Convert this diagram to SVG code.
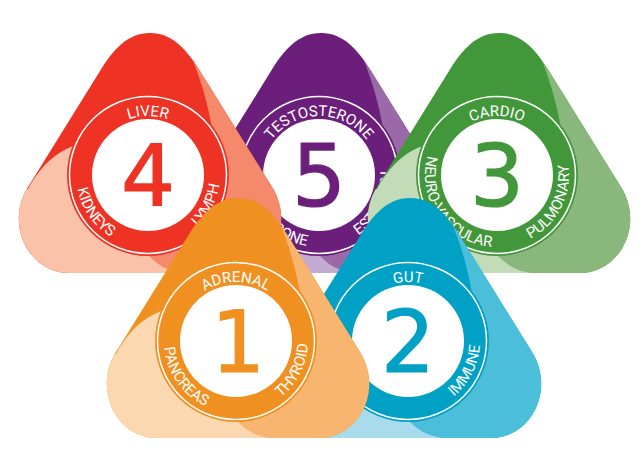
<svg xmlns="http://www.w3.org/2000/svg" width="644" height="470" viewBox="0 0 644 470">
<style>
.num{font-family:"DejaVu Sans",sans-serif;font-size:85px;text-anchor:middle;stroke-width:1.2}
.lbl{font-family:Roboto,"Liberation Sans",sans-serif;font-size:15px;fill:#fff;text-anchor:middle}
.ring{fill:none;stroke:#fff;stroke-width:1.5}
.disc{fill:#fff}
.red-d{fill:#ee3224;stroke:#ee3224}.red-m{fill:#f4896b}.red-l{fill:#f9c2a9}
.pur-d{fill:#6b1f7b;stroke:#6b1f7b}.pur-m{fill:#9a6aa8}.pur-l{fill:#c4abd2}
.grn-d{fill:#43973b;stroke:#43973b}.grn-m{fill:#8ab87c}.grn-l{fill:#c3dcb8}
.org-d{fill:#f09020;stroke:#f09020}.org-m{fill:#f8b56f}.org-l{fill:#fcd8b0}
.blu-d{fill:#00a1c4;stroke:#00a1c4}.blu-m{fill:#4bbed9}.blu-l{fill:#a8dbeb}
.shape{stroke:none}
</style>
<defs>
<path id="tri" d="M0,0 C22,0 36.4,16 50,38 L122,154 C145.6,191.8 121,240 81,240 L-81,240 C-121,240 -145.6,191.8 -122,154 L-50,38 C-36.4,16 -22,0 0,0Z"/>
<path id="lobeL" d="M-122,156 C-112,138 -96,116 -66,110 L-10,130 L10,215 L60,262 L-200,262 L-200,156Z"/>
<path id="lobeR" d="M42,25 C50,45 58,70 62,96 L20,200 L-2,222 C8,232 18,240 43,241 L200,262 L200,-10Z"/>
<clipPath id="clipTri"><use href="#tri"/></clipPath>
<path id="arcT" d="M-59,0 A59 59 0 0 1 59,0"/>
<path id="arcL" d="M-58.98,-41.3 A72 72 0 0 0 18.63,69.55"/>
<path id="arcR" d="M-8.77,71.46 A72 72 0 0 0 52.66,-49.1"/>
</defs>

<g id="node-5" transform="translate(321,33)">
  <use href="#tri" class="pur-d shape"/>
  <g clip-path="url(#clipTri)"><use href="#lobeL" class="pur-l"/><use href="#lobeR" class="pur-m"/></g>
  <g transform="translate(-2,142)">
    <circle r="81" class="pur-d shape"/><circle r="78.5" class="ring"/><circle r="56" class="disc"/>
    <text class="num pur-d" y="31">5</text>
    <text class="lbl"><textPath href="#arcT" startOffset="50%">TESTOSTERONE</textPath></text>
    <text class="lbl"><textPath href="#arcL" startOffset="50%">PROGESTERONE</textPath></text>
    <text class="lbl"><textPath href="#arcR" startOffset="50%">ESTROGEN</textPath></text>
  </g>
</g>

<g id="node-4" transform="translate(150,33)">
  <use href="#tri" class="red-d shape"/>
  <g clip-path="url(#clipTri)"><use href="#lobeL" class="red-l"/><use href="#lobeR" class="red-m"/></g>
  <g transform="translate(-2,142)">
    <circle r="81" class="red-d shape"/><circle r="78.5" class="ring"/><circle r="56" class="disc"/>
    <text class="num red-d" y="31">4</text>
    <text class="lbl"><textPath href="#arcT" startOffset="50%">LIVER</textPath></text>
    <text class="lbl"><textPath href="#arcL" startOffset="50%">KIDNEYS</textPath></text>
    <text class="lbl"><textPath href="#arcR" startOffset="50%">LYMPH</textPath></text>
  </g>
</g>

<g id="node-3" transform="translate(499,33)">
  <use href="#tri" class="grn-d shape"/>
  <g clip-path="url(#clipTri)"><use href="#lobeL" class="grn-l"/><use href="#lobeR" class="grn-m"/></g>
  <g transform="translate(-2,142)">
    <circle r="81" class="grn-d shape"/><circle r="78.5" class="ring"/><circle r="56" class="disc"/>
    <text class="num grn-d" y="31">3</text>
    <text class="lbl"><textPath href="#arcT" startOffset="50%">CARDIO</textPath></text>
    <text class="lbl"><textPath href="#arcL" startOffset="50%">NEURO-VASCULAR</textPath></text>
    <text class="lbl"><textPath href="#arcR" startOffset="50%">PULMONARY</textPath></text>
  </g>
</g>

<g id="node-2" transform="translate(410,198)">
  <use href="#tri" class="blu-d shape"/>
  <g clip-path="url(#clipTri)"><use href="#lobeL" class="blu-l"/><use href="#lobeR" class="blu-m"/></g>
  <g transform="translate(-2,143)">
    <circle r="81" class="blu-d shape"/><circle r="78.5" class="ring"/><circle r="56" class="disc"/>
    <text class="num blu-d" y="31">2</text>
    <text class="lbl"><textPath href="#arcT" startOffset="50%">GUT</textPath></text>
    <text class="lbl"><textPath href="#arcR" startOffset="50%">IMMUNE</textPath></text>
  </g>
</g>

<g id="node-1" transform="translate(238,198)">
  <use href="#tri" class="org-d shape"/>
  <g clip-path="url(#clipTri)"><use href="#lobeL" class="org-l"/><use href="#lobeR" class="org-m"/></g>
  <g transform="translate(-2,143)">
    <circle r="81" class="org-d shape"/><circle r="78.5" class="ring"/><circle r="56" class="disc"/>
    <text class="num org-d" x="2" y="31">1</text>
    <text class="lbl"><textPath href="#arcT" startOffset="50%">ADRENAL</textPath></text>
    <text class="lbl"><textPath href="#arcL" startOffset="50%">PANCREAS</textPath></text>
    <text class="lbl"><textPath href="#arcR" startOffset="50%">THYROID</textPath></text>
  </g>
</g>

<g id="connectors"></g>
</svg>
